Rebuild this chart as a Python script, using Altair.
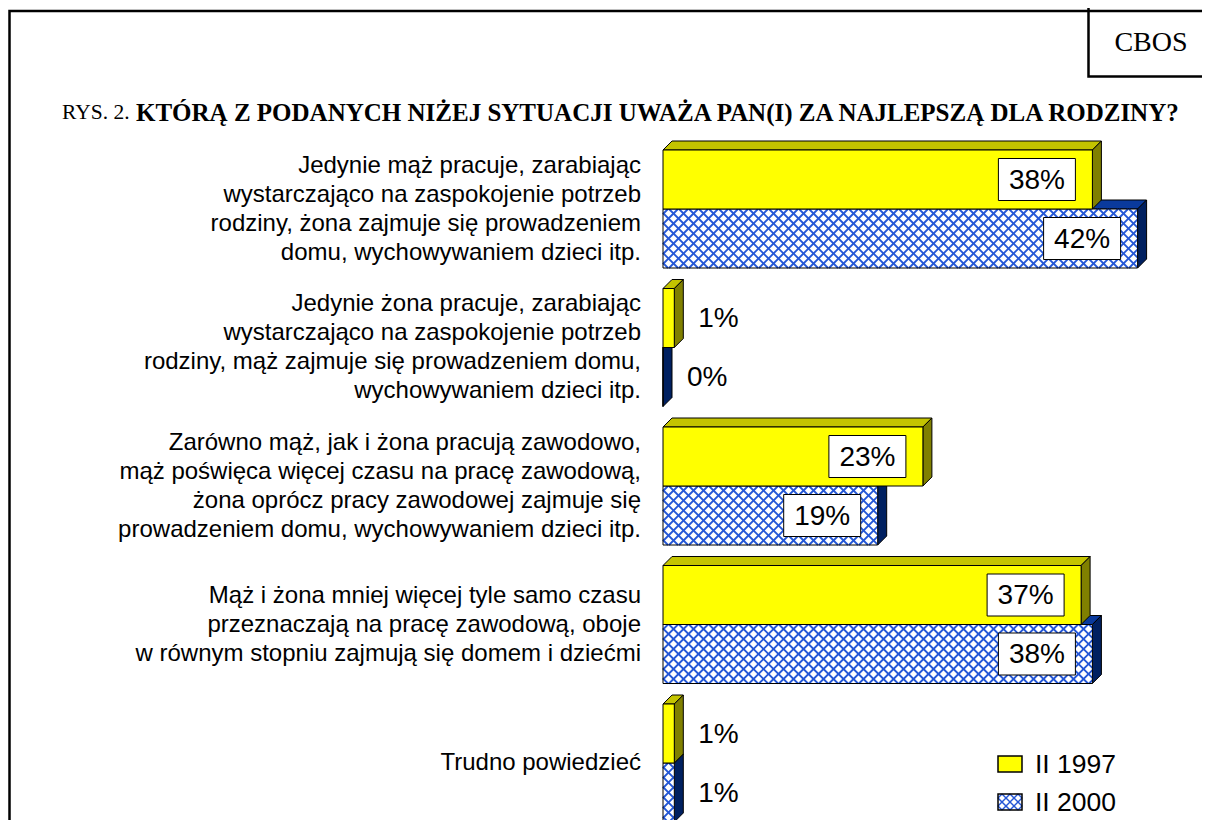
import altair as alt
import pandas as pd

# ---------------- data ----------------
categories = [
    "Jedynie mąż pracuje, zarabiając\nwystarczająco na zaspokojenie potrzeb\nrodziny, żona zajmuje się prowadzeniem\ndomu, wychowywaniem dzieci itp.",
    "Jedynie żona pracuje, zarabiając\nwystarczająco na zaspokojenie potrzeb\nrodziny, mąż zajmuje się prowadzeniem domu,\nwychowywaniem dzieci itp.",
    "Zarówno mąż, jak i żona pracują zawodowo,\nmąż poświęca więcej czasu na pracę zawodową,\nżona oprócz pracy zawodowej zajmuje się\nprowadzeniem domu, wychowywaniem dzieci itp.",
    "Mąż i żona mniej więcej tyle samo czasu\nprzeznaczają na pracę zawodową, oboje\nw równym stopniu zajmują się domem i dziećmi",
    "Trudno powiedzieć",
]
series = ["II 1997", "II 2000"]
values_1997 = [38, 1, 23, 37, 1]
values_2000 = [42, 0, 19, 38, 1]
title_prefix = "RYS. 2."
title_main = "KTÓRĄ Z PODANYCH NIŻEJ SYTUACJI UWAŻA PAN(I) ZA NAJLEPSZĄ DLA RODZINY?"
source_label = "CBOS"

# ---------------- layout / style ----------------
W, H = 1194, 812
PX_PCT = 11.3          # pixels per percentage point
PX_SLOT = 138.5        # pixels per category slot
X0 = 655               # pixel of 0 %
Y0 = 142               # pixel of first bar top
XDOM = [-X0 / PX_PCT, (W - X0) / PX_PCT]
YDOM = [-Y0 / PX_SLOT, (H - Y0) / PX_SLOT]
BAR = 59 / PX_SLOT
DEPTH = 9
DX = DEPTH / PX_PCT
DY = DEPTH / PX_SLOT
HATCH = 10
LINE_H = 29

YELLOW, YELLOW_TOP, YELLOW_SIDE = "#FFFF00", "#C4C400", "#808000"
BLUE_TOP, BLUE_SIDE, HATCH_COL = "#0A3A9C", "#002060", "#2457D6"
SANS, SERIF = "Liberation Sans", "Liberation Serif"

xs = alt.Scale(domain=XDOM, nice=False, zero=False)
ys = alt.Scale(domain=YDOM, nice=False, zero=False, reverse=True)


def X(f):
    return alt.X(f, type="quantitative", scale=xs, axis=None)


def X2(f):
    return alt.X2(f)


def Y(f):
    return alt.Y(f, type="quantitative", scale=ys, axis=None)


# bars table
bars = []
for i, cat in enumerate(categories):
    for s, vals in enumerate([values_1997, values_2000]):
        T = i + s * BAR
        bars.append(dict(cat=i, series=series[s], s=s, v=vals[i], x0=0.0,
                         T=T, B=T + BAR, yc=T + BAR / 2))
bars_df = pd.DataFrame(bars)


def faces(s_idx, face):
    rows = []
    for b in bars:
        if b["s"] != s_idx:
            continue
        v, T, B = b["v"], b["T"], b["B"]
        if face == "top":
            pts = [(0, T), (v, T), (v + DX, T - DY), (DX, T - DY)]
        else:
            pts = [(v, T), (v + DX, T - DY), (v + DX, B - DY), (v, B)]
        for k, (x, y) in enumerate(pts):
            rows.append(dict(pid=f"{b['cat']}-{face}", k=k, x=x, y=y))
    return pd.DataFrame(rows)


def face_layer(s_idx, face, color):
    return alt.Chart(faces(s_idx, face)).mark_line(
        interpolate="linear-closed", fill=color, stroke="black",
        strokeWidth=1, strokeJoin="miter", fillOpacity=1
    ).encode(x=X("x"), y=Y("y"), detail="pid:N", order="k:Q")


def hatch_segments(w, h, step):
    segs = []
    c = -h + step / 2
    while c < w:
        xa, xb = max(c, 0), min(c + h, w)
        if xb - xa > 0.3:
            segs.append((xa, xa - c, xb, xb - c))
        c += step
    c = step / 2
    while c < w + h:
        ya, yb = max(0, c - w), min(h, c)
        if yb - ya > 0.3:
            segs.append((c - ya, ya, c - yb, yb))
        c += step
    return segs


hrows = []
for b in bars:
    if b["s"] != 1 or b["v"] <= 0:
        continue
    wpx = b["v"] * PX_PCT
    hpx = BAR * PX_SLOT
    for (a, bb, c, d) in hatch_segments(wpx, hpx, HATCH):
        hrows.append(dict(x=a / PX_PCT, y=b["T"] + bb / PX_SLOT,
                          x2=c / PX_PCT, y2=b["T"] + d / PX_SLOT))
hatch_df = pd.DataFrame(hrows)

blue_df = bars_df[bars_df.s == 1]
yel_df = bars_df[bars_df.s == 0]

blue_front = alt.Chart(blue_df).mark_rect(fill="white", stroke=None).encode(
    x=X("x0"), x2=X2("v"), y=Y("T"), y2=alt.Y2("B"))
blue_hatch = alt.Chart(hatch_df).mark_rule(color=HATCH_COL, strokeWidth=1.8).encode(
    x=X("x"), y=Y("y"), x2=X2("x2"), y2=alt.Y2("y2"))
blue_outline = alt.Chart(blue_df).mark_rect(fill=None, stroke="black", strokeWidth=1).encode(
    x=X("x0"), x2=X2("v"), y=Y("T"), y2=alt.Y2("B"))
yel_front = alt.Chart(yel_df).mark_rect(fill=YELLOW, stroke="black", strokeWidth=1).encode(
    x=X("x0"), x2=X2("v"), y=Y("T"), y2=alt.Y2("B"))

# value labels
BOX_W, BOX_H, BOX_GAP = 77, 42, 17
lab = bars_df.copy()
lab["label"] = lab["v"].astype(int).astype(str) + "%"
big = lab[lab.v >= 5].copy()
big["bx1"] = big["v"] - (BOX_GAP + BOX_W) / PX_PCT
big["bx2"] = big["v"] - BOX_GAP / PX_PCT
big["bxc"] = big["v"] - (BOX_GAP + BOX_W / 2) / PX_PCT
big["by1"] = big["yc"] - (BOX_H / 2) / PX_SLOT
big["by2"] = big["yc"] + (BOX_H / 2) / PX_SLOT
small = lab[lab.v < 5].copy()
small["tx"] = small["v"] + 24 / PX_PCT

boxes = alt.Chart(big).mark_rect(fill="white", stroke="black", strokeWidth=1).encode(
    x=X("bx1"), x2=X2("bx2"), y=Y("by1"), y2=alt.Y2("by2"))
box_text = alt.Chart(big).mark_text(font=SANS, fontSize=28, align="center",
                                    baseline="middle", dy=1).encode(
    x=X("bxc"), y=Y("yc"), text="label:N")
small_text = alt.Chart(small).mark_text(font=SANS, fontSize=28, align="left",
                                        baseline="middle", dy=1).encode(
    x=X("tx"), y=Y("yc"), text="label:N")

# category labels (first line position so that the block is centred on the group)
n_lines = [c.count("\n") + 1 for c in categories]
cat_df = pd.DataFrame(dict(
    label=categories,
    yfirst=[i + BAR - (n - 1) * LINE_H / 2 / PX_SLOT for i, n in enumerate(n_lines)]))
cat_text = alt.Chart(cat_df).mark_text(font=SANS, fontSize=24, align="right",
                                       baseline="middle", lineBreak="\n",
                                       lineHeight=LINE_H, color="black").encode(
    x=alt.value(633), y=Y("yfirst"), text="label:N")

one = pd.DataFrame({"d": [0]})

# outer frame and the CBOS box, drawn as rectangles whose far sides lie outside the page
frame = [
    alt.Chart(one).mark_rect(fill=None, stroke="black", strokeWidth=2.5).encode(
        x=alt.value(1.5), x2=alt.value(W + 40), y=alt.value(3), y2=alt.value(H + 40)),
    alt.Chart(one).mark_rect(fill=None, stroke="black", strokeWidth=2.5).encode(
        x=alt.value(1080.5), x2=alt.value(W + 40), y=alt.value(-20), y2=alt.value(68.5)),
]
cbos = alt.Chart(one).mark_text(font=SERIF, fontSize=28, align="center",
                                baseline="middle").encode(
    x=alt.value(1143), y=alt.value(35), text=alt.value(source_label))
t1 = alt.Chart(one).mark_text(font=SERIF, fontSize=21.5, align="left",
                              baseline="middle").encode(
    x=alt.value(54), y=alt.value(105), text=alt.value(title_prefix))
t2 = alt.Chart(one).mark_text(font=SERIF, fontSize=25, fontWeight="bold", align="left",
                              baseline="middle").encode(
    x=alt.value(128), y=alt.value(105), text=alt.value(title_main))

# legend
leg = pd.DataFrame(dict(series=series, fill=[YELLOW, "white"],
                        y1=[748, 786], y2=[764, 802], ty=[756, 794]))
leg_rect = alt.Chart(leg).mark_rect(stroke=None).encode(
    x=alt.value(990), x2=alt.value(1014),
    y=alt.Y("y1:Q", scale=None), y2="y2:Q",
    fill=alt.Fill("fill:N", scale=None))
lh = pd.DataFrame([dict(x=990 + a, y=786 + b, x2=990 + c, y2=786 + d)
                   for (a, b, c, d) in hatch_segments(24, 16, 8)])
leg_hatch = alt.Chart(lh).mark_rule(color=HATCH_COL, strokeWidth=1.5).encode(
    x=alt.X("x:Q", scale=None), y=alt.Y("y:Q", scale=None),
    x2="x2:Q", y2="y2:Q")
leg_outline = alt.Chart(leg).mark_rect(fill=None, stroke="black", strokeWidth=1.5).encode(
    x=alt.value(990), x2=alt.value(1014),
    y=alt.Y("y1:Q", scale=None), y2="y2:Q")
leg_text = alt.Chart(leg).mark_text(font=SANS, fontSize=26.5, align="left",
                                    baseline="middle", dy=1).encode(
    x=alt.value(1027), y=alt.Y("ty:Q", scale=None), text="series:N")

layers = frame + [
    face_layer(1, "top", BLUE_TOP), face_layer(1, "side", BLUE_SIDE),
    blue_front, blue_hatch, blue_outline,
    face_layer(0, "top", YELLOW_TOP), face_layer(0, "side", YELLOW_SIDE),
    yel_front,
    boxes, box_text, small_text, cat_text, cbos, t1, t2,
    leg_rect, leg_hatch, leg_outline, leg_text,
]

chart = alt.layer(*layers).properties(
    width=W, height=H, padding=0,
    autosize=alt.AutoSizeParams(type="none"),
    background="white",
).configure_view(stroke=None)

chart.save("out.html", embed_options={"renderer": "svg", "actions": False})
